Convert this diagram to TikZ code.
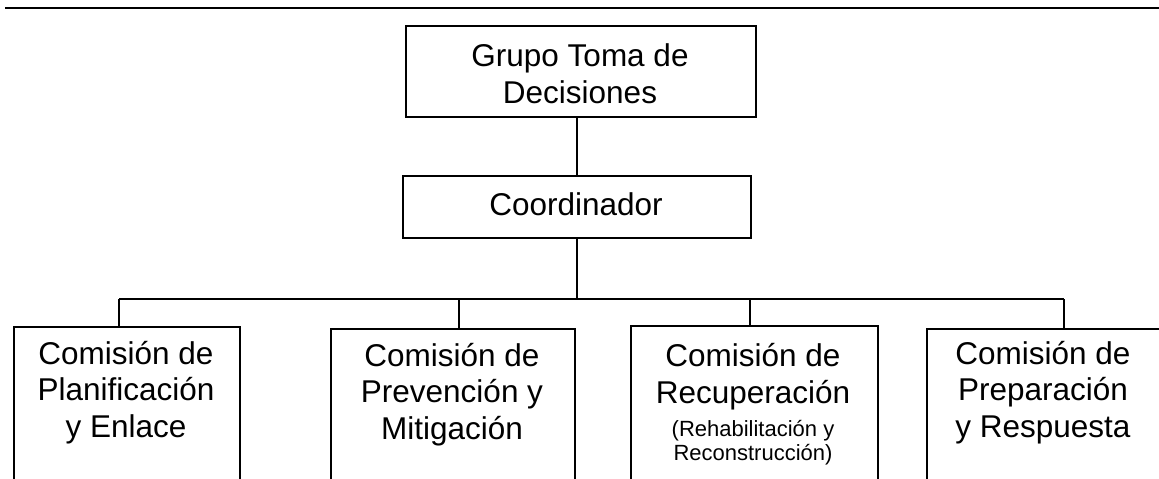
\documentclass[tikz,border=0pt]{standalone}
\usepackage{fontspec}
\setmainfont{Liberation Sans}
\begin{document}
\begin{tikzpicture}[x=1pt,y=-1pt,
  boxline/.style={draw=black,line width=1.8pt},
  orgbox/.style={boxline,rectangle,inner sep=0pt,anchor=north west},
  bigtxt/.style={font=\fontsize{31.5}{36.5}\selectfont,align=center,inner sep=0pt,anchor=base},
  smalltxt/.style={font=\fontsize{22}{23.5}\selectfont,align=center,inner sep=0pt,anchor=base},
  conn/.style={line width=1.8pt,draw=black}]
\useasboundingbox (0,0) rectangle (1159,479);
% top rule
\coordinate (ruleL) at (5,8);
\coordinate (ruleR) at (1159,8);
\draw[conn] (ruleL) -- (ruleR);
% top box
\node[orgbox,minimum width=350pt,minimum height=91pt] (top) at (405,25) {};
\node[bigtxt] (toptxt) at (580,103) {Grupo Toma de\\Decisiones};
% coordinator
\node[orgbox,minimum width=348pt,minimum height=62pt] (coord) at (402,175) {};
\node[bigtxt] (coordtxt) at (576,215) {Coordinador};
% bottom boxes
\node[orgbox,minimum width=226pt,minimum height=200pt] (b1) at (13,326) {};
\node[orgbox,minimum width=244pt,minimum height=200pt] (b2) at (330,328) {};
\node[orgbox,minimum width=247pt,minimum height=200pt] (b3) at (630,325) {};
\node[orgbox,minimum width=236pt,minimum height=200pt] (b4) at (926,328) {};
\node[bigtxt] (t1) at (126,437) {Comisión de\\Planificación\\y Enlace};
\node[bigtxt] (t2) at (452,439) {Comisión de\\Prevención y\\Mitigación};
\node[bigtxt] (t3) at (753,403) {Comisión de\\Recuperación};
\node[smalltxt] (t3s) at (753,460) {(Rehabilitación y\\Reconstrucción)};
\node[bigtxt] (t4) at (1043,437) {Comisión de\\Preparación\\y Respuesta};
% connectors
\draw[conn] (top.south -| coord.north) -- (coord.north);
\coordinate (d1) at (119,299);
\coordinate (d2) at (459,299);
\coordinate (d3) at (750,299);
\coordinate (d4) at (1064,299);
\draw[conn] (coord.south) -- (coord.south |- d1);
\draw[conn] (d1) -- (d4);
\draw[conn] (d1) -- (d1 |- b1.north);
\draw[conn] (d2) -- (d2 |- b2.north);
\draw[conn] (d3) -- (d3 |- b3.north);
\draw[conn] (d4) -- (d4 |- b4.north);
\end{tikzpicture}
\end{document}
